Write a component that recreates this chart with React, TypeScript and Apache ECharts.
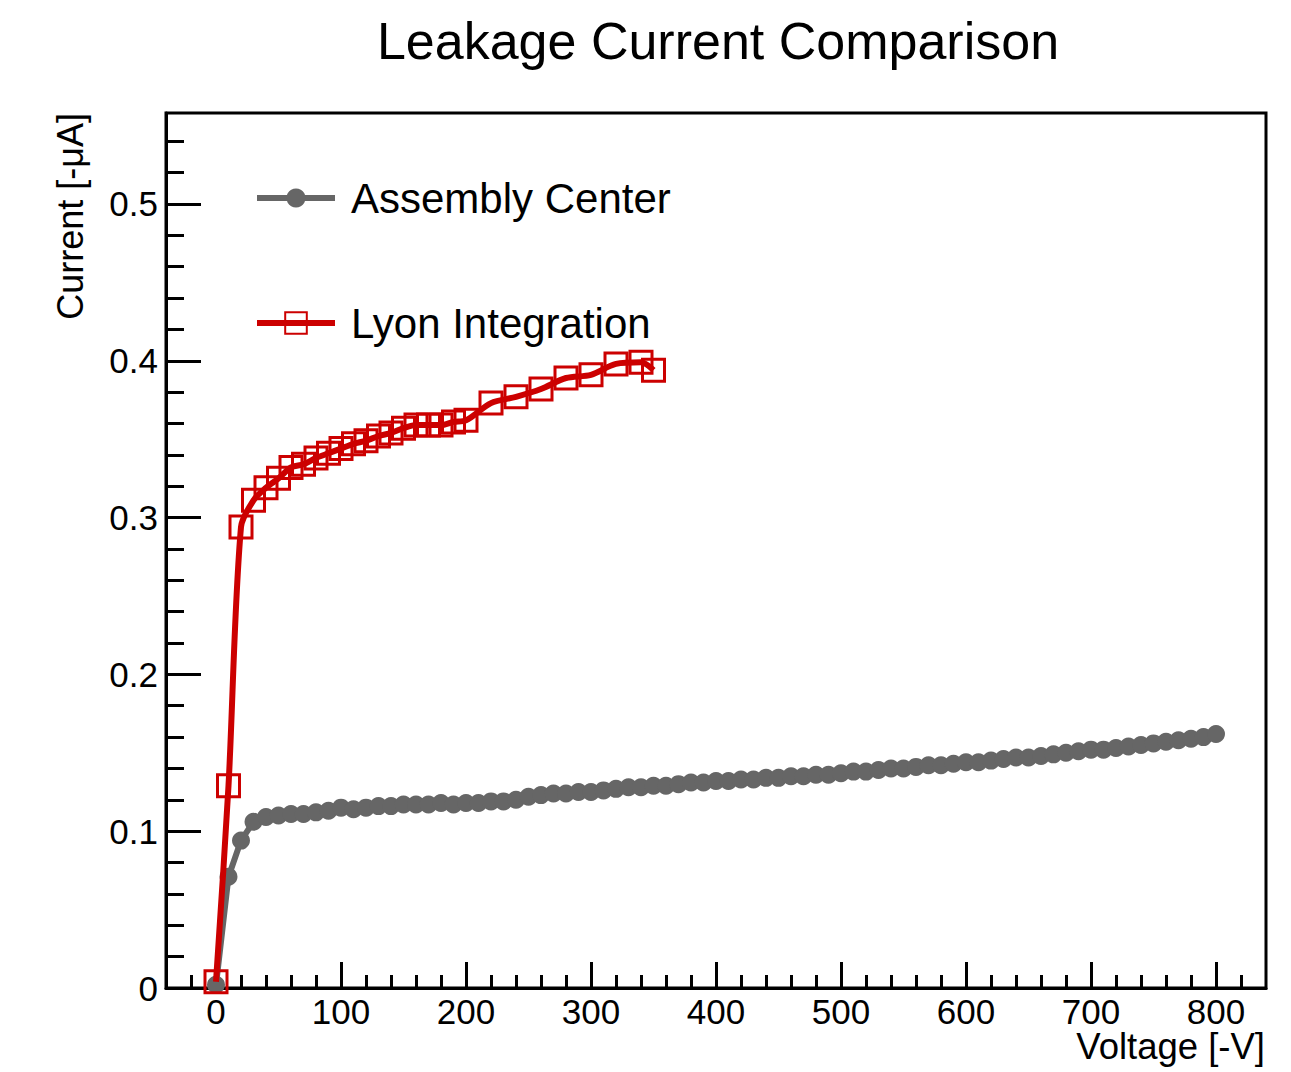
import React, { useEffect, useRef } from "react";
import * as echarts from "echarts";

const chartTitle = "Leakage Current Comparison";
const xAxisTitle = "Voltage [-V]";
const yAxisTitle = "Current [-\u03bcA]";
const seriesNames = ["Assembly Center", "Lyon Integration"];

const assemblyVoltage = [
  0, 10, 20, 30, 40, 50, 60, 70, 80, 90,
  100, 110, 120, 130, 140, 150, 160, 170, 180, 190,
  200, 210, 220, 230, 240, 250, 260, 270, 280, 290,
  300, 310, 320, 330, 340, 350, 360, 370, 380, 390,
  400, 410, 420, 430, 440, 450, 460, 470, 480, 490,
  500, 510, 520, 530, 540, 550, 560, 570, 580, 590,
  600, 610, 620, 630, 640, 650, 660, 670, 680, 690,
  700, 710, 720, 730, 740, 750, 760, 770, 780, 790,
  800,
];
const assemblyCurrent = [
  0.002, 0.071, 0.094, 0.106, 0.109, 0.110, 0.111, 0.111, 0.112, 0.113,
  0.115, 0.114, 0.115, 0.116, 0.116, 0.117, 0.117, 0.117, 0.118, 0.117,
  0.118, 0.118, 0.119, 0.119, 0.120, 0.122, 0.123, 0.124, 0.124, 0.125,
  0.125, 0.126, 0.127, 0.128, 0.128, 0.129, 0.129, 0.130, 0.131, 0.131,
  0.132, 0.132, 0.133, 0.133, 0.134, 0.134, 0.135, 0.135, 0.136, 0.136,
  0.137, 0.138, 0.138, 0.139, 0.140, 0.140, 0.141, 0.142, 0.142, 0.143,
  0.144, 0.144, 0.145, 0.146, 0.147, 0.147, 0.148, 0.149, 0.150, 0.151,
  0.152, 0.152, 0.153, 0.154, 0.155, 0.156, 0.157, 0.158, 0.159, 0.160,
  0.162,
];

const lyonVoltage = [
  0, 10, 20, 30, 40, 50, 60, 70, 80, 90,
  100, 110, 120, 130, 140, 150, 160, 170, 180, 190,
  200, 220, 240, 260, 280, 300, 320, 340, 350,
];
const lyonCurrent = [
  0.004, 0.129, 0.294, 0.311, 0.319, 0.325, 0.332, 0.334, 0.338, 0.341,
  0.344, 0.347, 0.349, 0.352, 0.354, 0.357, 0.359, 0.359, 0.359, 0.361,
  0.362, 0.373, 0.377, 0.382, 0.389, 0.391, 0.398, 0.399, 0.394,
];

const xMajorTicks = [0, 100, 200, 300, 400, 500, 600, 700, 800];
const xMinorTicks = [
  -20, 20, 40, 60, 80, 120, 140, 160, 180, 220, 240, 260, 280,
  320, 340, 360, 380, 420, 440, 460, 480, 520, 540, 560, 580,
  620, 640, 660, 680, 720, 740, 760, 780, 820,
];
const yMajorTicks = [0, 0.1, 0.2, 0.3, 0.4, 0.5];
const yMinorTicks = [
  0.02, 0.04, 0.06, 0.08, 0.12, 0.14, 0.16, 0.18, 0.22, 0.24, 0.26, 0.28,
  0.32, 0.34, 0.36, 0.38, 0.42, 0.44, 0.46, 0.48, 0.52, 0.54,
];

const FONT = "'Liberation Sans', Arial, Helvetica, sans-serif";
const GRAY = "#666666";
const RED = "#cc0000";

export default function App() {
  const ref = useRef<HTMLDivElement>(null);

  useEffect(() => {
    document.body.style.margin = "0";
    if (!ref.current) return;
    const chart = echarts.init(ref.current, null, { renderer: "svg" });

    const baseXAxis = {
      type: "value" as const,
      gridIndex: 0,
      min: -40,
      max: 840,
      position: "bottom" as const,
      splitLine: { show: false },
    };
    const baseYAxis = {
      type: "value" as const,
      gridIndex: 0,
      min: 0,
      max: 0.558,
      position: "left" as const,
      splitLine: { show: false },
    };

    const legendText = {
      fontSize: 42,
      color: "#000",
      fontFamily: FONT,
      lineHeight: 44,
      padding: [0, 0, 0, 11],
    };

    const option: any = {
      animation: false,
      backgroundColor: "#ffffff",
      textStyle: { fontFamily: FONT },
      graphic: [
        {
          type: "text",
          x: 718,
          y: 41,
          style: {
            text: chartTitle,
            font: `52px ${FONT}`,
            fill: "#000",
            align: "center",
            verticalAlign: "middle",
          },
        },
        {
          type: "text",
          x: 1265,
          y: 1046,
          style: {
            text: xAxisTitle,
            font: `36.5px ${FONT}`,
            lineHeight: 28,
            fill: "#000",
            align: "right",
            verticalAlign: "middle",
          },
        },
        {
          type: "text",
          x: 70,
          y: 113,
          rotation: Math.PI / 2,
          style: {
            text: yAxisTitle,
            font: `36px ${FONT}`,
            fill: "#000",
            align: "right",
            verticalAlign: "middle",
          },
        },
      ],
      legend: [
        {
          data: [seriesNames[0]],
          left: 254,
          top: 176,
          padding: 0,
          itemWidth: 78,
          itemHeight: 24,
          selectedMode: false,
          lineStyle: { width: 6 },
          textStyle: legendText,
        },
        {
          data: [seriesNames[1]],
          left: 254,
          top: 301,
          padding: 0,
          itemWidth: 78,
          itemHeight: 27,
          selectedMode: false,
          lineStyle: { width: 6 },
          textStyle: legendText,
        },
      ],
      grid: {
        left: 166,
        top: 113,
        width: 1100,
        height: 875,
        show: true,
        borderColor: "#000",
        borderWidth: 3,
        backgroundColor: "transparent",
        containLabel: false,
      },
      xAxis: [
        {
          ...baseXAxis,
          axisLine: { show: true, onZero: false, lineStyle: { color: "#000", width: 3 } },
          axisTick: {
            show: true,
            inside: true,
            length: 26,
            customValues: xMajorTicks,
            lineStyle: { color: "#000", width: 3 },
          },
          axisLabel: {
            show: true,
            customValues: xMajorTicks,
            fontSize: 35,
            lineHeight: 30,
            color: "#000",
            fontFamily: FONT,
            margin: 8,
          },
        },
        {
          ...baseXAxis,
          axisLine: { show: false, onZero: false },
          axisTick: {
            show: true,
            inside: true,
            length: 13,
            customValues: xMinorTicks,
            lineStyle: { color: "#000", width: 3 },
          },
          axisLabel: { show: false },
        },
      ],
      yAxis: [
        {
          ...baseYAxis,
          axisLine: { show: true, onZero: false, lineStyle: { color: "#000", width: 3 } },
          axisTick: {
            show: true,
            inside: true,
            length: 35,
            customValues: yMajorTicks,
            lineStyle: { color: "#000", width: 3 },
          },
          axisLabel: {
            show: true,
            customValues: yMajorTicks,
            fontSize: 35,
            color: "#000",
            fontFamily: FONT,
            margin: 8,
            formatter: (v: number) => (v === 0 ? "0" : v.toFixed(1)),
          },
        },
        {
          ...baseYAxis,
          axisLine: { show: false, onZero: false },
          axisTick: {
            show: true,
            inside: true,
            length: 18,
            customValues: yMinorTicks,
            lineStyle: { color: "#000", width: 3 },
          },
          axisLabel: { show: false },
        },
      ],
      series: [
        {
          name: seriesNames[0],
          type: "line",
          xAxisIndex: 0,
          yAxisIndex: 0,
          data: assemblyVoltage.map((v, i) => [v, assemblyCurrent[i]]),
          symbol: "circle",
          symbolSize: 18,
          showAllSymbol: true,
          lineStyle: { color: GRAY, width: 6 },
          itemStyle: { color: GRAY },
          emphasis: { disabled: true },
          z: 2,
        },
        {
          name: seriesNames[1],
          type: "line",
          xAxisIndex: 0,
          yAxisIndex: 0,
          data: lyonVoltage.map((v, i) => [v, lyonCurrent[i]]),
          symbol: "rect",
          symbolSize: 22,
          showAllSymbol: true,
          smooth: 0.3,
          lineStyle: { color: RED, width: 6 },
          itemStyle: { color: "rgba(255,255,255,0)", borderColor: RED, borderWidth: 3 },
          emphasis: { disabled: true },
          z: 3,
        },
      ],
    };

    chart.setOption(option);
    return () => chart.dispose();
  }, []);

  return <div ref={ref} style={{ width: 1291, height: 1072 }} />;
}
